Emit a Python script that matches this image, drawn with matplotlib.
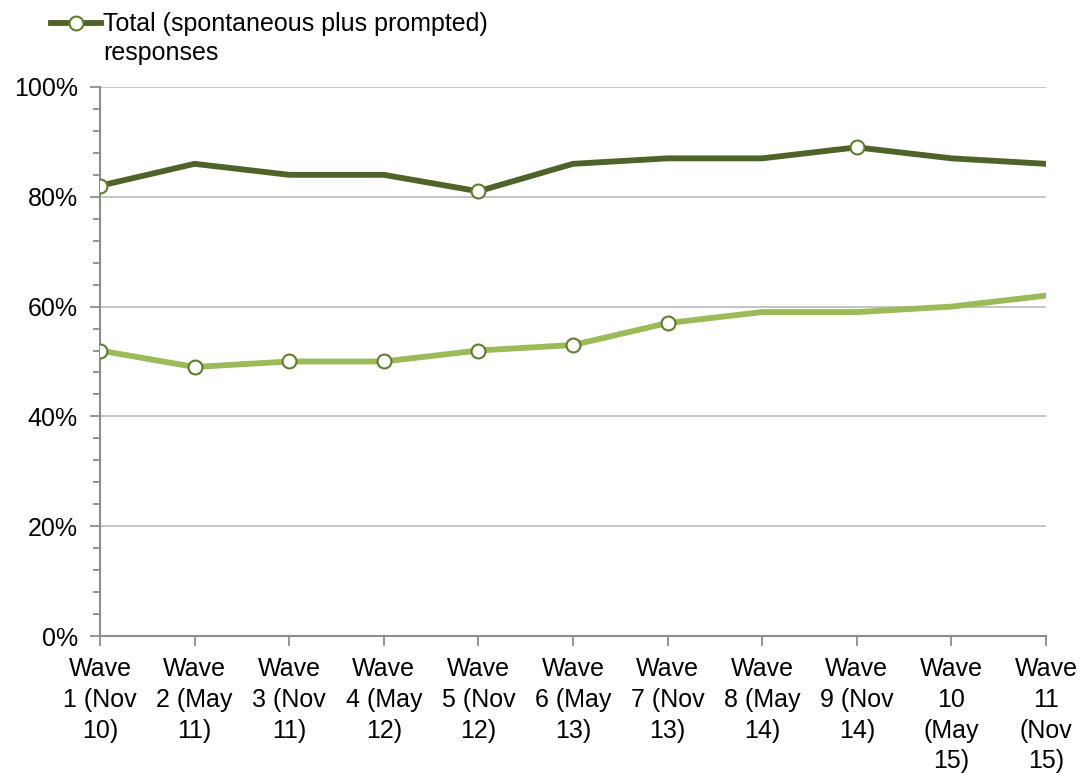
import matplotlib.pyplot as plt
from matplotlib.ticker import MultipleLocator, FuncFormatter

plt.rcParams['font.family'] = ['Liberation Sans', 'DejaVu Sans']

waves = [
    "Wave\n1 (Nov\n10)", "Wave\n2 (May\n11)", "Wave\n3 (Nov\n11)", "Wave\n4 (May\n12)",
    "Wave\n5 (Nov\n12)", "Wave\n6 (May\n13)", "Wave\n7 (Nov\n13)", "Wave\n8 (May\n14)",
    "Wave\n9 (Nov\n14)", "Wave\n10\n(May\n15)", "Wave\n11\n(Nov\n15)",
]
total = [82, 86, 84, 84, 81, 86, 87, 87, 89, 87, 86]
spontaneous = [52, 49, 50, 50, 52, 53, 57, 59, 59, 60, 62]
# points that carry a marker in the original
total_marks = [0, 4, 8]
spont_marks = [0, 1, 2, 3, 4, 5, 6]

dark = "#4f6228"
light = "#9bbb59"
edge = "#5f7d2b"
fs = 18

fig = plt.figure(figsize=(10.83, 7.73), dpi=100)
ax = fig.add_axes([0.0923, 0.1772, 0.8735, 0.7103])

x = list(range(len(waves)))
ax.plot(x, spontaneous, color=light, lw=4.2, marker="o", markevery=spont_marks,
        ms=10, mfc="white", mec=edge, mew=1.5, zorder=3)
ax.plot(x, total, color=dark, lw=4.2, marker="o", markevery=total_marks,
        ms=10, mfc="white", mec=edge, mew=1.5, zorder=3,
        label="Total (spontaneous plus prompted)")

ax.set_xlim(0, len(waves) - 1)
ax.set_ylim(0, 100)
ax.yaxis.set_major_locator(MultipleLocator(20))
ax.yaxis.set_minor_locator(MultipleLocator(4))
ax.yaxis.set_major_formatter(FuncFormatter(lambda v, p: f"{v:.0f}%"))
ax.set_xticks(x)
ax.set_xticklabels(waves, linespacing=1.36)

ax.grid(axis="y", color="#bfbfbf", lw=1.3)
ax.set_axisbelow(True)
for s in ["top", "right"]:
    ax.spines[s].set_visible(False)
for s in ["left", "bottom"]:
    ax.spines[s].set_color("#8c8c8c")
    ax.spines[s].set_linewidth(1.5)
ax.tick_params(axis="both", which="both", color="#8c8c8c", width=1.3, labelsize=fs)
ax.tick_params(axis="x", which="major", length=7, pad=8)
ax.tick_params(axis="y", which="major", length=7, pad=9)
ax.tick_params(axis="y", which="minor", length=5)

leg = fig.legend(loc="upper left", bbox_to_anchor=(0.0375, 0.997), frameon=False,
                 fontsize=fs, handlelength=2.0, handletextpad=0.1,
                 borderaxespad=0)
fig.text(0.0955, 0.931, "responses", fontsize=fs, va="center", ha="left")

fig.savefig("out.png", dpi=100)
